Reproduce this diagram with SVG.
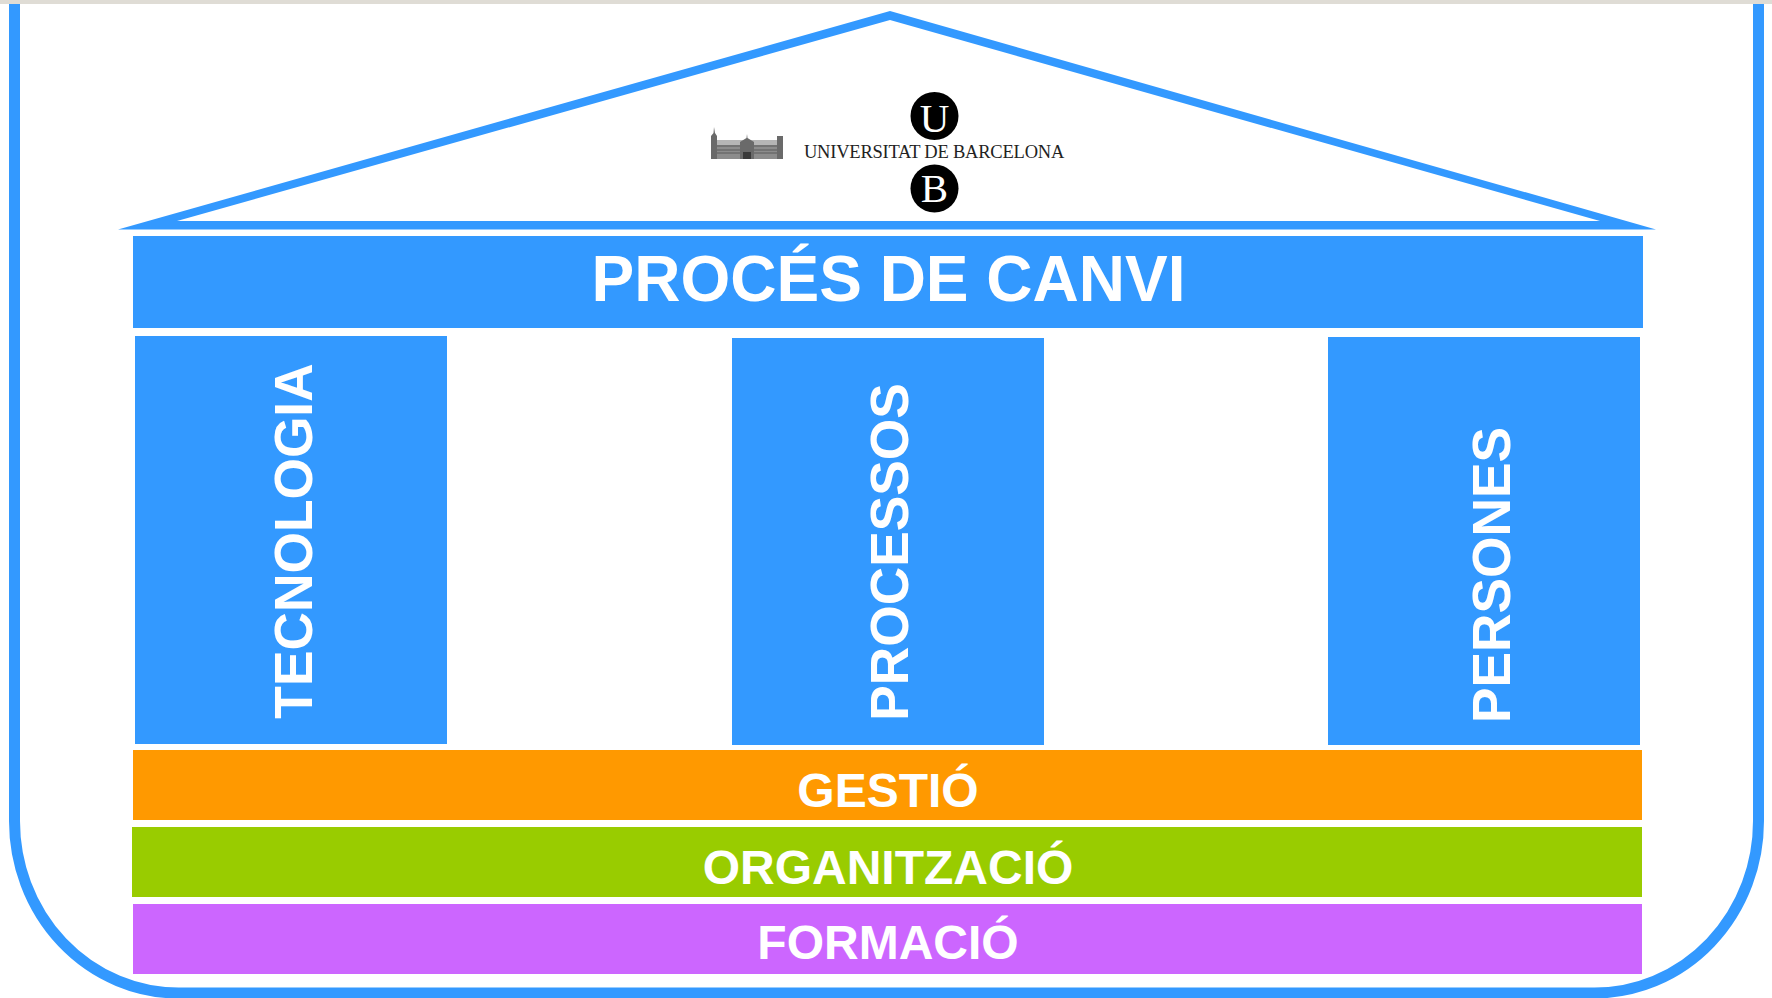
<svg xmlns="http://www.w3.org/2000/svg" width="1772" height="998" viewBox="0 0 1772 998">
<style>
.b{fill:#3399ff}
.t{font-family:"Liberation Sans",Arial,sans-serif;font-weight:700;fill:#fff;text-anchor:middle}
.s{font-family:"Liberation Serif","Times New Roman",serif;text-anchor:middle}
</style>
<rect width="1772" height="998" fill="#fff"/>
<rect id="top-strip" width="1772" height="4" fill="#dfdcd5"/>
<path id="frame" d="M14.500 4V820A164 172 0 0 0 178.500 993H1594A164 172 0 0 0 1758.500 820V4" fill="none" stroke="#3399ff" stroke-width="11"/>
<g id="roof"><path class="b" fill-rule="evenodd" d="M890 11L1656 229.500H118ZM890 20L177 221H1600Z"/></g>
<g id="logo">
<g id="building">
<rect x="711" y="145" width="72" height="14" fill="#8c8c8c"/>
<rect x="711" y="140" width="72" height="5" fill="#b5b5b5"/>
<path d="M711 146H783M711 150H783M711 153H783" stroke="#5a5a5a" stroke-width="1" fill="none"/>
<path d="M711 159V136L713.500 133L714 127L715 133L717 136V159ZM777 159V136H783V159ZM740 159V142L746.500 138L747 134L747.500 138L754 142V159Z" fill="#6a6a6a"/>
<rect x="743" y="152" width="8" height="7" fill="#3a3a3a"/>
</g>
<circle cx="934.500" cy="116" r="24" fill="#000"/><circle cx="934.500" cy="188.500" r="24" fill="#000"/>
<text class="s" x="934.500" y="131.500" font-size="41" fill="#fff">U</text>
<text class="s" x="934.500" y="202" font-size="41" fill="#fff">B</text>
<text class="s" x="934" y="158" font-size="18.500" letter-spacing="-0.220" fill="#222">UNIVERSITAT DE BARCELONA</text>
</g>
<g id="proces"><rect class="b" x="133" y="236" width="1510" height="92"/><text class="t" x="888.500" y="301" font-size="64">PROCÉS DE CANVI</text></g>
<g id="tecnologia"><rect class="b" x="135" y="336" width="312" height="408"/><text class="t" transform="translate(312 541) rotate(-90)" font-size="53.300">TECNOLOGIA</text></g>
<g id="processos"><rect class="b" x="732" y="338" width="312" height="407"/><text class="t" transform="translate(908 552) rotate(-90)" font-size="53.300">PROCESSOS</text></g>
<g id="persones"><rect class="b" x="1328" y="337" width="312" height="408"/><text class="t" transform="translate(1510 575) rotate(-90)" font-size="53.300">PERSONES</text></g>
<g id="gestio"><rect x="133" y="750" width="1509" height="70" fill="#ff9900"/><text class="t" x="888" y="807" font-size="48">GESTIÓ</text></g>
<g id="organitzacio"><rect x="132" y="827" width="1510" height="70" fill="#99cc00"/><text class="t" x="888" y="884" font-size="48">ORGANITZACIÓ</text></g>
<g id="formacio"><rect x="133" y="904" width="1509" height="70" fill="#cc66ff"/><text class="t" x="888" y="959" font-size="48">FORMACIÓ</text></g>
<g id="connectors"/>
</svg>
